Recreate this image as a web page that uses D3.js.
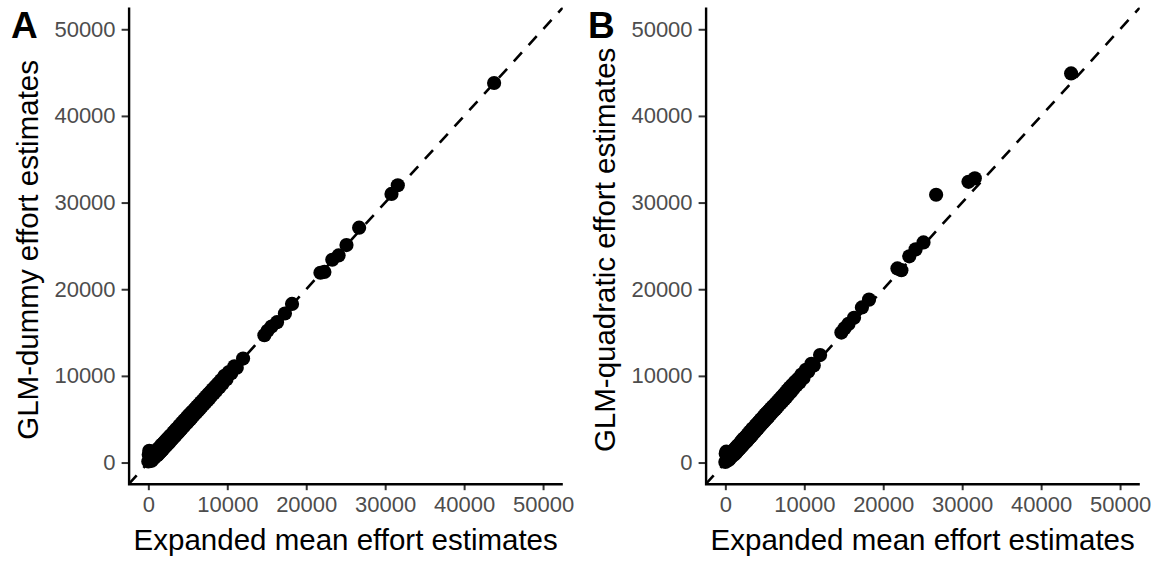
<!DOCTYPE html>
<html>
<head>
<meta charset="utf-8">
<script src="https://cdn.jsdelivr.net/npm/d3@7"></script>
<style>
  html, body { margin: 0; padding: 0; background: #fff; }
  svg { display: block; }
  text { font-family: "Liberation Sans", Arial, sans-serif; }
</style>
</head>
<body>
<svg id="chart" width="1159" height="563"></svg>
<script>
// Expanded mean effort estimates (shared x for both panels)
const expandedMean = [
  0, 50, 120, 180, 250, 300, 380, 420, 500, 560, 600, 650, 720, 800, 850, 900, 980,
  1050, 1100, 1180, 1250, 1320, 1400, 1480, 1550, 1620, 1700, 1780, 1850, 1930,
  2000, 2080, 2150, 2240, 2300, 2380, 2460, 2550, 2620, 2700, 2780, 2860, 2950,
  3020, 3100, 3180, 3260, 3350, 3420, 3500, 3600, 3680, 3750, 3850, 3920,
  4000, 4100, 4180, 4260, 4350, 4450, 4520, 4600, 4700, 4800, 4880, 4960,
  5050, 5150, 5230, 5320, 5420, 5500, 5600, 5700, 5800, 5900,
  6000, 6100, 6200, 6320, 6420, 6530, 6650, 6750, 6880,
  7000, 7100, 7220, 7350, 7480, 7600, 7720, 7850,
  8000, 8150, 8300, 8450, 8600, 8800, 9000, 9200, 9400, 9650, 9900,
  10200, 10500, 10900, 11200,
  12000, 14700, 15100, 15600, 16300, 17300, 18200, 21800, 22300,
  23300, 24100, 25100, 26700, 30800, 31600, 43800
];

// GLM-dummy effort estimates (panel A)
const glmDummy = [
  120, 900, 1350, 300, 1150, 500, 1250, 200, 700, 1200, 400, 1000, 900, 600, 1100, 950, 800,
  1350, 800, 1500, 950, 1650, 1100, 1800, 1250, 1950, 1400, 2100, 1550, 2250,
  1700, 2400, 1850, 2550, 2000, 2700, 2150, 2850, 2300, 3000, 2450, 3150, 2650,
  3300, 2800, 3500, 2950, 3650, 3100, 3800, 3300, 3950, 3450, 4150, 3600,
  4300, 3800, 4500, 3950, 4650, 4150, 4850, 4300, 5000, 4500, 5200, 4650,
  5400, 4850, 5550, 5000, 5750, 5200, 5900, 5400, 6100, 5600,
  6300, 5800, 6500, 6000, 6700, 6200, 6950, 6450, 7150,
  6700, 7400, 6900, 7650, 7150, 7900, 7400, 8150,
  7700, 8450, 8000, 8750, 8300, 9100, 8700, 9500, 9100, 10000, 9600,
  10450, 10300, 11100, 10950,
  12000, 14700, 15200, 15700, 16200, 17200, 18300, 21900, 22000,
  23400, 23900, 25100, 27100, 31000, 32000, 43800
];

// GLM-quadratic effort estimates (panel B)
const glmQuadratic = [
  60, 1000, 1250, 200, 1200, 450, 1100, 300, 850, 1150, 500, 1050, 800, 700, 1200, 1000, 900,
  1400, 900, 1550, 1050, 1700, 1200, 1850, 1350, 2000, 1500, 2150, 1650, 2300,
  1800, 2500, 1950, 2650, 2100, 2800, 2250, 2950, 2400, 3100, 2550, 3250, 2750,
  3450, 2900, 3600, 3050, 3800, 3200, 3950, 3400, 4100, 3550, 4300, 3750,
  4450, 3900, 4650, 4100, 4800, 4300, 5000, 4450, 5150, 4650, 5350, 4800,
  5550, 5000, 5700, 5150, 5900, 5350, 6050, 5550, 6250, 5750,
  6450, 5950, 6650, 6150, 6850, 6350, 7100, 6600, 7300,
  6850, 7550, 7050, 7800, 7300, 8050, 7550, 8350,
  7850, 8650, 8150, 8950, 8500, 9300, 8900, 9650, 9250, 10150, 9750,
  10700, 10500, 11400, 11200,
  12400, 15000, 15500, 16000, 16700, 17900, 18800, 22400, 22200,
  23800, 24600, 25400, 30900, 32400, 32800, 44900
];

const tickValues = [0, 10000, 20000, 30000, 40000, 50000];
const axisDomain = [-2500, 52500];
const xTitle = "Expanded mean effort estimates";
const panels = [
  { tag: "A", yTitle: "GLM-dummy effort estimates", values: glmDummy, offset: 0 },
  { tag: "B", yTitle: "GLM-quadratic effort estimates", values: glmQuadratic, offset: 577 }
];

const svg = d3.select("#chart");
const font = '"Liberation Sans", Arial, sans-serif';

panels.forEach(p => {
  const left = 128.6 + p.offset, right = 562.8 + p.offset;
  const top = 7.6, bottom = 484.2;

  const x = d3.scaleLinear().domain(axisDomain).range([left, right]);
  const y = d3.scaleLinear().domain(axisDomain).range([bottom, top]);

  const g = svg.append("g");

  const clipId = "clip" + p.tag;
  svg.append("clipPath").attr("id", clipId)
    .append("rect").attr("x", left).attr("y", top)
    .attr("width", right - left).attr("height", bottom - top);

  // 1:1 reference line
  g.append("line")
    .attr("clip-path", `url(#${clipId})`)
    .attr("x1", x(axisDomain[0])).attr("y1", y(axisDomain[0]))
    .attr("x2", x(axisDomain[1])).attr("y2", y(axisDomain[1]))
    .attr("stroke", "#000").attr("stroke-width", 2.6)
    .attr("stroke-dasharray", "12,10");

  // points
  g.append("g").attr("clip-path", `url(#${clipId})`)
    .selectAll("circle")
    .data(expandedMean.map((v, i) => [v, p.values[i]]))
    .join("circle")
    .attr("cx", d => x(d[0]))
    .attr("cy", d => y(d[1]))
    .attr("r", 7.1)
    .attr("fill", "#000");

  // x axis
  const xAxis = g.append("g")
    .attr("transform", `translate(0,${bottom})`)
    .call(d3.axisBottom(x).tickValues(tickValues).tickFormat(d3.format("d"))
      .tickSize(6).tickPadding(5));
  xAxis.select(".domain").remove();
  xAxis.selectAll(".tick line").attr("stroke", "#333").attr("stroke-width", 2);
  xAxis.selectAll(".tick text")
    .attr("fill", "#4D4D4D").style("font-family", font).style("font-size", "22px")
    .attr("dy", "0.75em");

  // y axis
  const yAxis = g.append("g")
    .attr("transform", `translate(${left},0)`)
    .call(d3.axisLeft(y).tickValues(tickValues).tickFormat(d3.format("d"))
      .tickSize(7).tickPadding(6));
  yAxis.select(".domain").remove();
  yAxis.selectAll(".tick line").attr("stroke", "#333").attr("stroke-width", 2);
  yAxis.selectAll(".tick text")
    .attr("fill", "#4D4D4D").style("font-family", font).style("font-size", "22px");

  // axis lines
  g.append("path")
    .attr("d", `M${left + 0.5},${top} V${bottom} H${right}`)
    .attr("fill", "none").attr("stroke", "#000").attr("stroke-width", 2.4);

  // axis titles
  g.append("text")
    .attr("x", (left + right) / 2).attr("y", 550)
    .attr("text-anchor", "middle")
    .style("font-size", "29.5px").attr("fill", "#000")
    .text(xTitle);

  g.append("text")
    .attr("transform", `translate(${38 + p.offset},${(top + bottom) / 2 + 4}) rotate(-90)`)
    .attr("text-anchor", "middle")
    .style("font-size", "29.5px").attr("fill", "#000")
    .text(p.yTitle);

  // panel tag
  g.append("text")
    .attr("x", 11 + p.offset).attr("y", 38)
    .style("font-size", "37px").style("font-weight", "bold").attr("fill", "#000")
    .text(p.tag);
});
</script>
</body>
</html>
